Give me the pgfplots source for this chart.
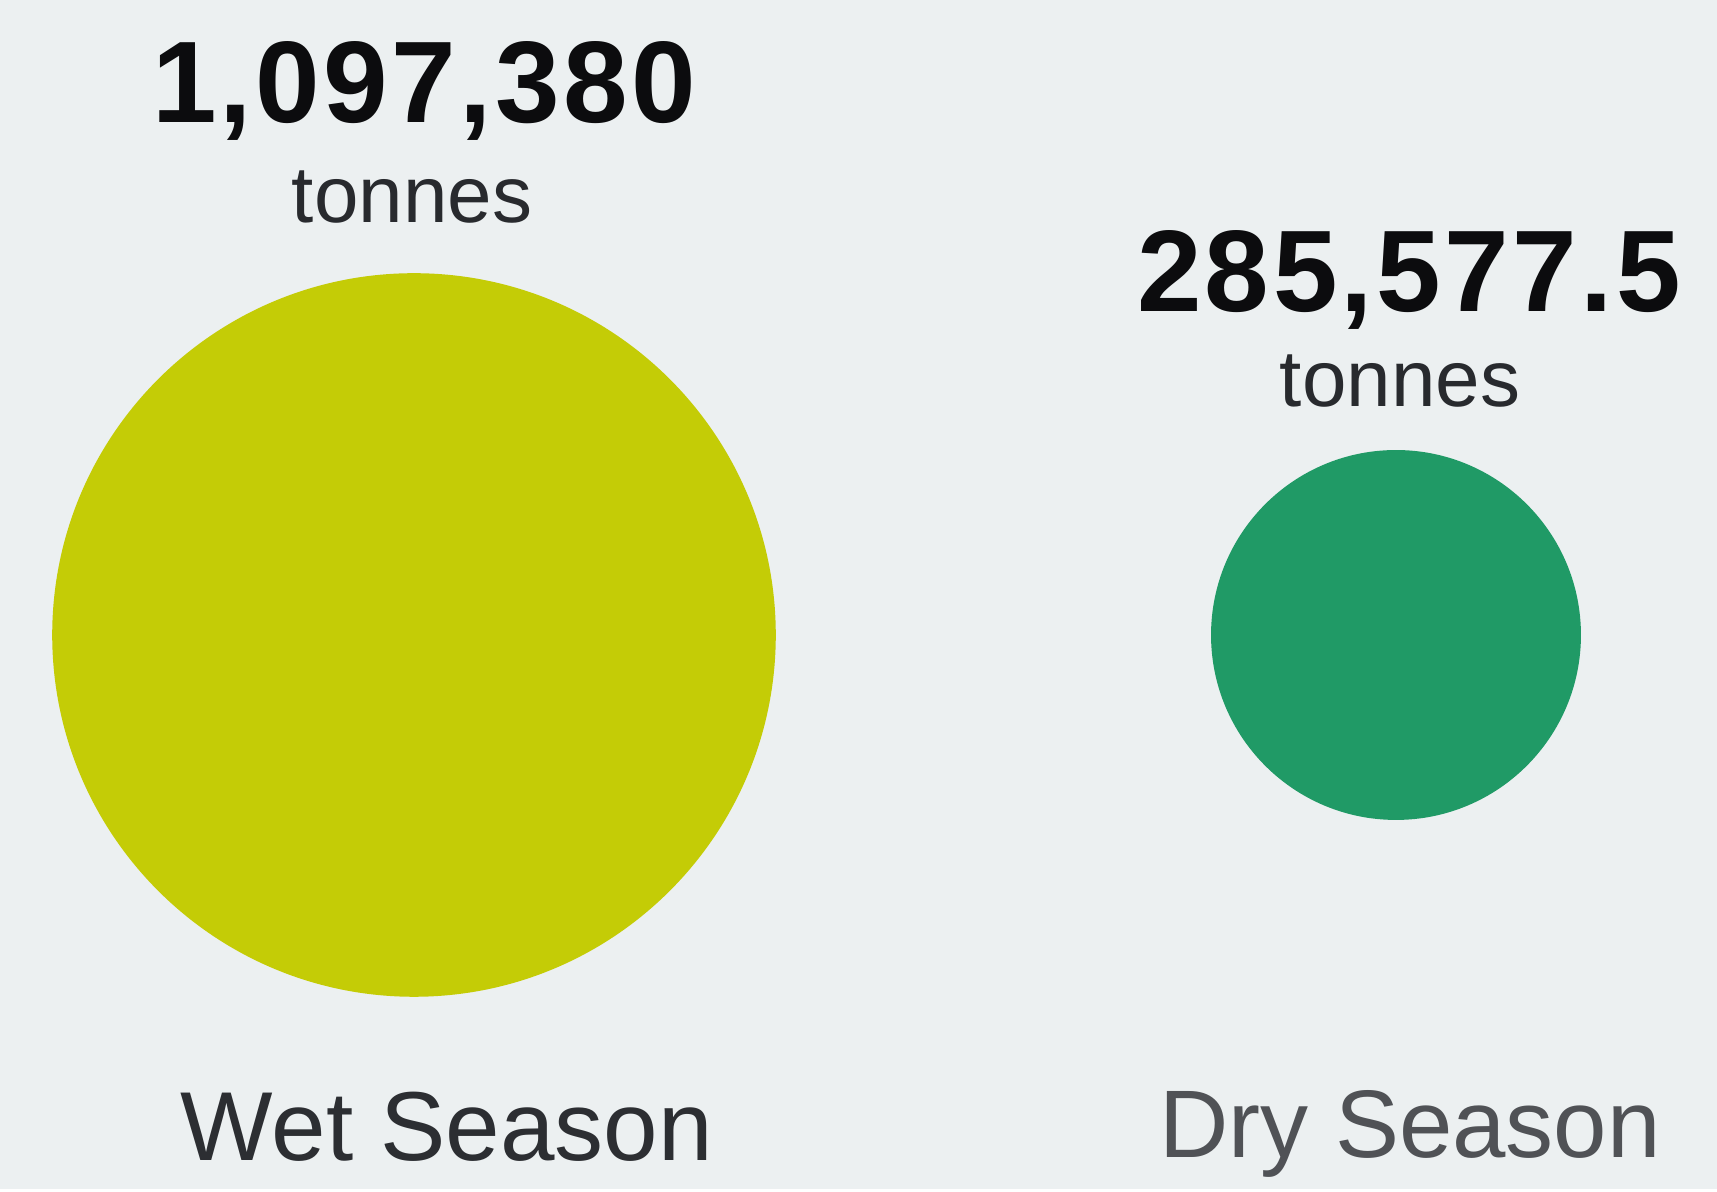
\documentclass[border=0pt]{standalone}
\usepackage{pgfplots}
\pgfplotsset{compat=1.18}
\usepackage{fontspec}
\setmainfont{Liberation Sans}
\newfontfamily\numfont[LetterSpace=3]{Liberation Sans}
\definecolor{bg}{RGB}{236,240,241}
\definecolor{wetc}{RGB}{196,204,6}
\definecolor{dryc}{RGB}{32,154,102}
\definecolor{numc}{RGB}{12,12,14}
\definecolor{unitc}{RGB}{40,42,46}
\definecolor{lab1}{RGB}{44,46,50}
\definecolor{lab2}{RGB}{80,82,86}
\begin{document}
\begin{tikzpicture}
\begin{axis}[
  scale only axis, width=429.25pt, height=297.25pt,
  xmin=0, xmax=1717, ymin=0, ymax=1189,
  axis lines=none, xtick=\empty, ytick=\empty,
  clip=false,
  axis background/.style={fill=bg},
]
\fill[bg] (rel axis cs:0,0) rectangle (rel axis cs:1,1);
\addplot[scatter, only marks, mark=*,
  scatter src=explicit symbolic,
  scatter/classes={
    w={mark=*, fill=wetc, draw=wetc},
    d={mark=*, fill=dryc, draw=dryc}},
  visualization depends on={sqrt(\thisrow{v}/1097380)*90.25 \as \msize},
  scatter/@pre marker code/.append style={/tikz/mark size=\msize},
] table[x=x, y=y, meta=c] {
x    y    v         c
414  554  1097380   w
1396 554  285577.5  d
};
\node[anchor=base, font=\numfont\fontsize{29}{32}\selectfont\bfseries, text=numc] at (axis cs:424,1066) {1,097,380};
\node[anchor=base, font=\fontsize{20}{22}\selectfont, text=unitc] at (axis cs:412,966) {tonnes};
\node[anchor=base, font=\numfont\fontsize{29}{32}\selectfont\bfseries, text=numc] at (axis cs:1409,877) {285,577.5};
\node[anchor=base, font=\fontsize{20}{22}\selectfont, text=unitc] at (axis cs:1400,782) {tonnes};
\node[anchor=base, font=\fontsize{24.5}{26}\selectfont, text=lab1] at (axis cs:447,28) {Wet Season};
\node[anchor=base, font=\fontsize{24}{26}\selectfont, text=lab2] at (axis cs:1410,31) {Dry Season};
\end{axis}
\end{tikzpicture}
\end{document}
